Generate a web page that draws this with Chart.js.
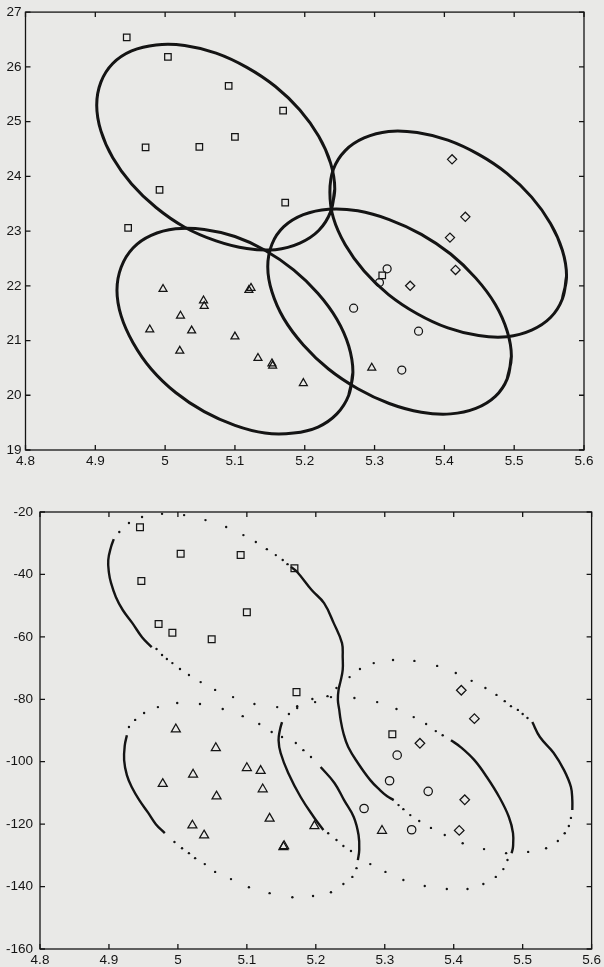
<!DOCTYPE html>
<html>
<head>
<meta charset="utf-8">
<script src="https://cdn.jsdelivr.net/npm/chart.js@4.4.1/dist/chart.umd.min.js"></script>
<style>
  html, body { margin: 0; padding: 0; background: #e9e9e7; }
  #wrap { position: relative; width: 604px; height: 967px; }
  canvas { position: absolute; left: 0; }
  #top { top: 0; }
  #bottom { top: 480px; }
</style>
</head>
<body>
<div id="wrap">
  <canvas id="top" width="604" height="480"></canvas>
  <canvas id="bottom" width="604" height="487"></canvas>
</div>
<script>
// tick labels
const xTicks = [4.8, 4.9, 5, 5.1, 5.2, 5.3, 5.4, 5.5, 5.6];
const yTicksTop = [19, 20, 21, 22, 23, 24, 25, 26, 27];
const yTicksBottom = [-160, -140, -120, -100, -80, -60, -40, -20];

// samples (same x in both panels)
const squareX    = [4.945, 5.004, 5.091, 5.169, 4.972, 5.049, 5.100, 4.992, 5.172, 4.947, 5.311];
const squareTopY = [26.54, 26.18, 25.65, 25.20, 24.53, 24.54, 24.72, 23.75, 23.52, 23.06, 22.19];
const squareBotY = [-24.9, -33.4, -33.8, -38.0, -55.9, -60.8, -52.1, -58.7, -77.7, -42.1, -91.2];

const triX    = [4.978, 4.997, 5.021, 5.022, 5.038, 5.055, 5.056, 5.100, 5.120, 5.123, 5.133, 5.153, 5.154, 5.198, 5.296];
const triTopY = [21.20, 21.94, 20.81, 21.45, 21.18, 21.73, 21.63, 21.07, 21.92, 21.96, 20.68, 20.58, 20.54, 20.22, 20.50];
const triBotY = [-107.1, -89.6, -120.4, -104.1, -123.6, -95.6, -111.1, -102.0, -102.9, -108.8, -118.2, -127.3, -127.0, -120.6, -122.1];

const circX    = [5.318, 5.307, 5.270, 5.363, 5.339];
const circTopY = [22.31, 22.06, 21.59, 21.17, 20.46];
const circBotY = [-97.9, -106.1, -115.0, -109.5, -121.8];

const diaX    = [5.411, 5.430, 5.408, 5.416, 5.351];
const diaTopY = [24.31, 23.26, 22.88, 22.29, 22.00];
const diaBotY = [-77.1, -86.2, -122.0, -112.2, -94.1];

// top panel: class contours (outline points)
const ellSquares = [[5.243,23.77],[5.237,23.35],[5.220,23.01],[5.193,22.78],[5.158,22.66],[5.117,22.68],[5.073,22.82],[5.028,23.07],[4.987,23.43],[4.952,23.86],[4.925,24.34],[4.908,24.83],[4.902,25.30],[4.908,25.72],[4.925,26.06],[4.952,26.29],[4.987,26.40],[5.028,26.39],[5.073,26.25],[5.117,25.99],[5.158,25.64],[5.193,25.21],[5.220,24.73],[5.237,24.24],[5.243,23.77],[5.237,23.35]];
const ellTriangles = [[5.269,20.42],[5.263,20.00],[5.246,19.66],[5.219,19.42],[5.184,19.31],[5.143,19.31],[5.100,19.45],[5.056,19.70],[5.015,20.05],[4.980,20.48],[4.954,20.96],[4.937,21.45],[4.931,21.92],[4.937,22.34],[4.954,22.69],[4.980,22.92],[5.015,23.04],[5.056,23.03],[5.100,22.90],[5.143,22.65],[5.184,22.29],[5.219,21.86],[5.246,21.39],[5.263,20.90],[5.269,20.42],[5.263,20.00]];
const ellDiamonds = [[5.575,22.18],[5.569,21.76],[5.552,21.42],[5.525,21.19],[5.490,21.07],[5.449,21.09],[5.405,21.23],[5.361,21.49],[5.320,21.84],[5.285,22.27],[5.258,22.75],[5.241,23.24],[5.236,23.71],[5.241,24.13],[5.258,24.47],[5.285,24.70],[5.320,24.82],[5.361,24.80],[5.405,24.66],[5.449,24.40],[5.490,24.05],[5.525,23.62],[5.552,23.14],[5.569,22.65],[5.575,22.18],[5.569,21.76]];
const ellCircles = [[5.496,20.71],[5.490,20.30],[5.473,19.98],[5.445,19.76],[5.409,19.66],[5.367,19.69],[5.321,19.85],[5.276,20.12],[5.234,20.48],[5.198,20.92],[5.170,21.40],[5.153,21.89],[5.147,22.35],[5.153,22.76],[5.170,23.08],[5.198,23.30],[5.234,23.40],[5.276,23.37],[5.321,23.21],[5.367,22.94],[5.409,22.58],[5.445,22.14],[5.473,21.66],[5.490,21.17],[5.496,20.71],[5.490,20.30]];

// bottom panel: dotted contours (dense parts as arcs, sparse parts as dots)
const sqArcLeft  = [[4.907,-28.7],[4.903,-31.2],[4.899,-35.4],[4.900,-39.5],[4.903,-42.7],[4.910,-47.2],[4.920,-51.4],[4.934,-55.6],[4.948,-60.1],[4.962,-63.3]];
const sqDotsTop  = [[4.915,-26.4],[4.929,-23.5],[4.948,-21.6],[4.977,-20.6],[5.009,-21.0],[5.040,-22.6],[5.070,-24.8],[5.095,-27.4],[5.113,-29.6],[5.129,-31.9],[5.142,-33.8],[5.152,-35.4],[5.159,-36.7]];
const sqArcRight = [[5.164,-37.6],[5.173,-39.2],[5.194,-45.0],[5.212,-49.2],[5.226,-55.6],[5.238,-62.0],[5.239,-66.5],[5.239,-70.6],[5.236,-74.1],[5.233,-77.0],[5.232,-80.2],[5.234,-83.4],[5.236,-86.6],[5.240,-90.8],[5.247,-95.3],[5.261,-100.4],[5.279,-105.9],[5.293,-109.1],[5.303,-111.0],[5.313,-112.3]];
const sqDotsLow  = [[4.969,-63.9],[4.977,-65.8],[4.984,-67.1],[4.992,-68.4],[5.003,-70.3],[5.016,-72.2],[5.033,-74.5],[5.054,-77.0],[5.080,-79.3],[5.111,-81.5],[5.144,-82.5],[5.173,-82.2],[5.195,-79.9],[5.217,-79.0],[5.230,-76.4]];

const diDotsTop  = [[5.249,-72.9],[5.264,-70.3],[5.284,-68.4],[5.312,-67.4],[5.343,-67.7],[5.376,-69.3],[5.403,-71.6],[5.426,-74.1],[5.446,-76.4],[5.462,-78.6],[5.474,-80.6],[5.483,-82.2],[5.493,-83.4],[5.500,-84.7],[5.507,-86.0]];
const diArcRight = [[5.514,-87.3],[5.525,-92.1],[5.545,-97.2],[5.560,-102.7],[5.570,-108.1],[5.572,-112.3],[5.572,-115.5]];
const diDotsLow  = [[5.570,-118.0],[5.567,-120.6],[5.561,-122.9],[5.551,-125.4],[5.534,-127.7],[5.508,-128.9],[5.476,-129.3],[5.444,-128.0],[5.413,-126.1],[5.387,-123.5],[5.367,-121.2],[5.350,-119.0],[5.337,-117.1],[5.327,-115.2],[5.320,-113.9]];

const ciArcLeft  = [[5.151,-87.3],[5.148,-89.8],[5.146,-93.1],[5.149,-97.2],[5.160,-103.6],[5.178,-111.3],[5.197,-117.7],[5.211,-121.9]];
const ciDotsLow  = [[5.218,-122.9],[5.230,-125.1],[5.240,-127.0],[5.251,-128.6],[5.279,-132.8],[5.301,-135.3],[5.327,-137.9],[5.358,-139.8],[5.390,-140.8],[5.420,-140.8],[5.443,-139.2],[5.461,-136.9],[5.472,-134.4],[5.478,-131.5]];
const ciArcRight = [[5.484,-129.3],[5.486,-127.3],[5.486,-122.9],[5.480,-117.7],[5.466,-111.3],[5.448,-104.9],[5.430,-99.5],[5.410,-95.3],[5.396,-93.1]];
const ciDotsTop  = [[5.384,-91.5],[5.374,-90.2],[5.360,-87.9],[5.342,-85.7],[5.317,-83.1],[5.289,-80.9],[5.256,-79.6],[5.222,-79.3],[5.199,-80.9],[5.173,-82.8],[5.161,-84.7]];

const trArcLeft  = [[4.926,-91.5],[4.923,-94.7],[4.922,-99.5],[4.926,-104.3],[4.933,-108.1],[4.944,-112.3],[4.957,-116.4],[4.968,-120.0],[4.981,-122.9]];
const trDotsLow  = [[4.995,-125.7],[5.006,-127.7],[5.016,-129.3],[5.025,-130.9],[5.039,-132.8],[5.054,-135.3],[5.077,-137.6],[5.103,-140.2],[5.133,-142.1],[5.166,-143.4],[5.196,-143.0],[5.222,-141.8],[5.240,-139.2],[5.253,-136.9],[5.259,-134.1]];
const trArcRight = [[5.261,-131.5],[5.263,-128.3],[5.262,-123.5],[5.255,-117.7],[5.241,-112.3],[5.227,-106.8],[5.207,-101.7]];
const trDotsTop  = [[5.193,-98.5],[5.182,-96.3],[5.171,-94.0],[5.151,-92.1],[5.136,-90.5],[5.118,-87.9],[5.094,-85.4],[5.065,-83.1],[5.032,-81.5],[4.999,-81.2],[4.971,-82.5],[4.951,-84.4],[4.938,-86.6],[4.929,-88.9]];

const INK = '#141414';
const FONT = { family: "'Liberation Sans', Arial, sans-serif", size: 13.5 };

const toXY = (xs, ys) => xs.map((x, i) => ({ x: x, y: ys[i] }));
const toPts = arr => arr.map(p => ({ x: p[0], y: p[1] }));

function markers(data, style, r) {
	return {
		data: data, showLine: false, pointStyle: style, pointRadius: r,
		pointBorderWidth: 1.25, pointBorderColor: INK, pointBackgroundColor: 'rgba(0,0,0,0)'
	};
}
function curve(arr, w) {
	return { data: toPts(arr), showLine: true, pointRadius: 0, borderColor: INK, borderWidth: w, tension: 0.4, fill: false };
}
function dots(arr) {
	return { data: toPts(arr), showLine: false, pointStyle: 'circle', pointRadius: 1.2, pointBorderWidth: 0, pointBackgroundColor: INK };
}

// box + inward ticks on all four sides
const frame = {
	id: 'frame',
	beforeDatasetsDraw(chart) {
		const { ctx, chartArea: a, scales } = chart;
		ctx.save();
		ctx.strokeStyle = INK;
		ctx.lineWidth = 1.3;
		ctx.strokeRect(a.left, a.top, a.right - a.left, a.bottom - a.top);
		ctx.beginPath();
		scales.x.ticks.forEach(t => {
			const px = scales.x.getPixelForValue(t.value);
			ctx.moveTo(px, a.bottom); ctx.lineTo(px, a.bottom - 5);
			ctx.moveTo(px, a.top); ctx.lineTo(px, a.top + 5);
		});
		scales.y.ticks.forEach(t => {
			const py = scales.y.getPixelForValue(t.value);
			ctx.moveTo(a.left, py); ctx.lineTo(a.left + 5, py);
			ctx.moveTo(a.right, py); ctx.lineTo(a.right - 5, py);
		});
		ctx.stroke();
		ctx.restore();
	}
};

function makeOptions(yMin, yMax, yTicks, yWidth, yPad, xHeight, pad) {
	return {
		responsive: false,
		animation: false,
		events: [],
		layout: { padding: pad },
		plugins: { legend: { display: false }, tooltip: { enabled: false } },
		scales: {
			x: {
				type: 'linear', min: 4.8, max: 5.6,
				afterBuildTicks: s => { s.ticks = xTicks.map(v => ({ value: v })); },
				afterFit: s => { s.height = xHeight; },
				grid: { display: false, drawTicks: false },
				border: { display: false },
				ticks: { color: INK, font: FONT, padding: 3, maxRotation: 0, autoSkip: false, callback: v => String(v) }
			},
			y: {
				type: 'linear', min: yMin, max: yMax,
				afterBuildTicks: s => { s.ticks = yTicks.map(v => ({ value: v })); },
				afterFit: s => { s.width = yWidth; },
				grid: { display: false, drawTicks: false },
				border: { display: false },
				ticks: { color: INK, font: FONT, padding: yPad, autoSkip: false, callback: v => String(v) }
			}
		}
	};
}

new Chart(document.getElementById('top'), {
	type: 'scatter',
	data: {
		datasets: [
			markers(toXY(squareX, squareTopY), 'rect', 4.6),
			markers(toXY(triX, triTopY), 'triangle', 4.6),
			markers(toXY(circX, circTopY), 'circle', 4),
			markers(toXY(diaX, diaTopY), 'rectRot', 4.6),
			curve(ellSquares, 3),
			curve(ellTriangles, 3),
			curve(ellDiamonds, 3),
			curve(ellCircles, 3)
		]
	},
	options: makeOptions(19, 27, yTicksTop, 25.5, 4, 30, { left: 0, top: 12, right: 20, bottom: 0 }),
	plugins: [frame]
});

new Chart(document.getElementById('bottom'), {
	type: 'scatter',
	data: {
		datasets: [
			markers(toXY(squareX, squareBotY), 'rect', 4.8),
			markers(toXY(triX, triBotY), 'triangle', 5.2),
			markers(toXY(circX, circBotY), 'circle', 4.2),
			markers(toXY(diaX, diaBotY), 'rectRot', 4.8),
			curve(sqArcLeft, 2.4), curve(sqArcRight, 2.4), dots(sqDotsTop), dots(sqDotsLow),
			curve(diArcRight, 2.4), dots(diDotsTop), dots(diDotsLow),
			curve(ciArcLeft, 2.4), curve(ciArcRight, 2.4), dots(ciDotsTop), dots(ciDotsLow),
			curve(trArcLeft, 2.4), curve(trArcRight, 2.4), dots(trDotsTop), dots(trDotsLow)
		]
	},
	options: makeOptions(-160, -20, yTicksBottom, 40, 7, 18, { left: 0, top: 32, right: 10, bottom: 0 }),
	plugins: [frame]
});
</script>
</body>
</html>
